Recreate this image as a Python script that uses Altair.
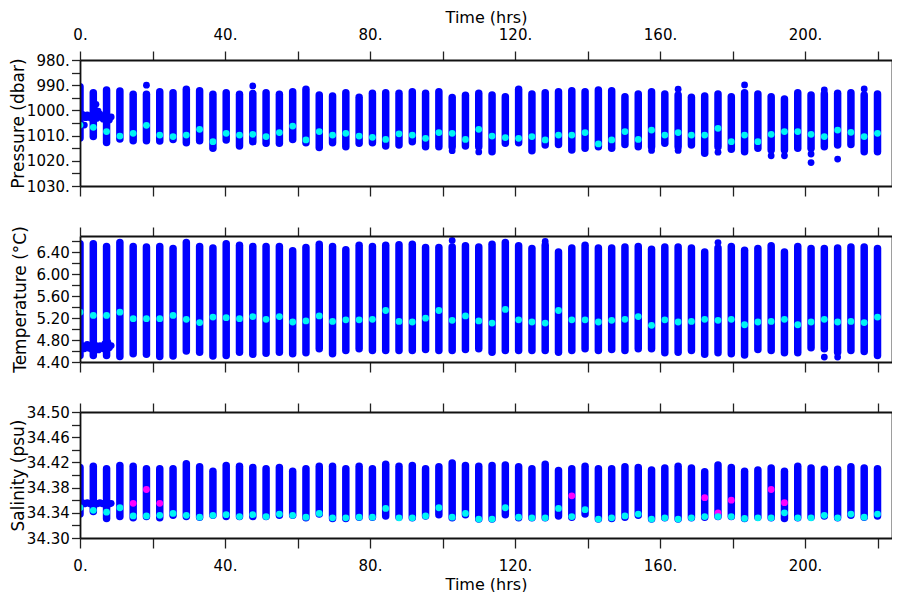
import altair as alt
import pandas as pd

# ---------------- data ----------------
CAST_TIME = [0.0, 3.67, 7.33, 11.0, 14.67, 18.33, 22.0, 25.67, 29.33, 33.0,
             36.67, 40.33, 44.0, 47.67, 51.33, 55.0, 58.67, 62.33, 66.0, 69.67,
             73.33, 77.0, 80.67, 84.33, 88.0, 91.67, 95.33, 99.0, 102.67, 106.33,
             110.0, 113.67, 117.33, 121.0, 124.67, 128.33, 132.0, 135.67, 139.33, 143.0,
             146.67, 150.33, 154.0, 157.67, 161.33, 165.0, 168.67, 172.33, 176.0, 179.67,
             183.33, 187.0, 190.67, 194.33, 198.0, 201.67, 205.33, 209.0, 212.67, 216.33,
             220.0]

# Pressure (dbar): shallowest, deepest, cyan marker
P_TOP = [990.6, 993.0, 991.9, 992.3, 993.6, 993.6, 992.6, 993.0, 991.6, 992.2,
         993.6, 993.0, 993.6, 993.3, 993.0, 993.6, 992.6, 991.6, 993.9, 994.3,
         993.0, 994.8, 993.2, 993.0, 993.2, 992.6, 993.2, 992.6, 994.9, 994.0,
         993.2, 993.9, 994.6, 991.6, 993.5, 993.0, 992.6, 992.2, 992.6, 991.9,
         992.2, 994.6, 993.5, 992.6, 993.5, 993.9, 994.8, 994.3, 993.5, 994.6,
         993.0, 993.5, 994.6, 995.5, 993.0, 993.9, 993.5, 993.2, 993.0, 993.9,
         993.5]
P_BOT = [1011.0, 1010.4, 1012.7, 1011.3, 1012.0, 1012.0, 1012.1, 1011.5, 1012.8, 1012.0,
         1015.0, 1011.7, 1014.1, 1012.4, 1013.0, 1013.0, 1011.5, 1012.8, 1014.7, 1012.8,
         1014.4, 1013.0, 1012.8, 1014.1, 1013.7, 1012.4, 1014.4, 1014.4, 1014.4, 1014.1,
         1014.4, 1016.4, 1013.0, 1012.8, 1016.0, 1013.7, 1013.5, 1015.7, 1015.0, 1014.4,
         1015.0, 1013.5, 1014.4, 1014.4, 1013.0, 1014.4, 1013.7, 1017.0, 1014.4, 1015.4,
         1016.4, 1015.0, 1015.7, 1015.7, 1015.0, 1015.0, 1014.4, 1013.7, 1013.5, 1016.4,
         1016.4]
P_CYAN = [1005.8, 1006.7, 1008.4, 1010.2, 1009.1, 1005.9, 1009.8, 1010.4, 1009.8, 1007.5,
          1012.4, 1009.1, 1009.8, 1009.5, 1010.4, 1008.8, 1006.2, 1011.7, 1008.4, 1009.8,
          1009.1, 1010.2, 1010.7, 1011.5, 1009.3, 1009.8, 1011.1, 1008.8, 1009.1, 1011.5,
          1007.5, 1010.2, 1010.8, 1011.1, 1010.4, 1011.7, 1009.8, 1009.8, 1008.8, 1013.3,
          1011.7, 1008.4, 1011.5, 1007.8, 1009.8, 1008.8, 1009.8, 1009.8, 1007.1, 1012.4,
          1009.8, 1012.4, 1009.5, 1008.4, 1008.4, 1009.5, 1010.4, 1007.8, 1008.7, 1010.4,
          1009.1]
P_EXTRA_K = [5, 13, 28, 30, 43, 45, 45, 48, 50, 52, 53, 55, 55, 56, 57, 59]
P_EXTRA_V = [990.0, 990.3, 1016.0, 1016.5, 1015.9, 991.6, 1015.9, 1016.6, 989.9,
             1018.0, 1018.0, 1017.3, 1020.7, 991.9, 1019.3, 991.5]

# Temperature (deg C): warmest, coldest, cyan marker
T_TOP = [6.56, 6.56, 6.51, 6.58, 6.51, 6.50, 6.51, 6.47, 6.58, 6.51,
         6.48, 6.56, 6.53, 6.51, 6.51, 6.51, 6.43, 6.49, 6.55, 6.51,
         6.45, 6.53, 6.51, 6.53, 6.54, 6.55, 6.49, 6.49, 6.50, 6.52,
         6.50, 6.55, 6.58, 6.52, 6.47, 6.53, 6.41, 6.48, 6.53, 6.48,
         6.48, 6.50, 6.51, 6.46, 6.50, 6.50, 6.48, 6.41, 6.48, 6.51,
         6.44, 6.47, 6.52, 6.41, 6.51, 6.47, 6.47, 6.48, 6.50, 6.50,
         6.47]
T_BOT = [4.52, 4.52, 4.52, 4.50, 4.55, 4.54, 4.50, 4.51, 4.60, 4.58,
         4.51, 4.52, 4.58, 4.54, 4.56, 4.58, 4.55, 4.57, 4.64, 4.55,
         4.61, 4.64, 4.61, 4.61, 4.61, 4.61, 4.63, 4.61, 4.61, 4.63,
         4.64, 4.58, 4.61, 4.61, 4.61, 4.61, 4.58, 4.61, 4.64, 4.61,
         4.63, 4.61, 4.64, 4.64, 4.57, 4.58, 4.61, 4.54, 4.57, 4.55,
         4.53, 4.63, 4.61, 4.57, 4.57, 4.66, 4.64, 4.58, 4.61, 4.59,
         4.52]
T_CYAN = [5.31, 5.25, 5.25, 5.31, 5.19, 5.19, 5.19, 5.25, 5.18, 5.12,
          5.22, 5.21, 5.19, 5.23, 5.18, 5.23, 5.13, 5.15, 5.24, 5.14,
          5.17, 5.17, 5.18, 5.34, 5.14, 5.13, 5.20, 5.34, 5.16, 5.24,
          5.15, 5.11, 5.36, 5.17, 5.13, 5.11, 5.34, 5.17, 5.17, 5.13,
          5.16, 5.18, 5.23, 5.07, 5.17, 5.13, 5.14, 5.18, 5.16, 5.18,
          5.08, 5.13, 5.14, 5.18, 5.08, 5.13, 5.18, 5.13, 5.14, 5.12,
          5.22]
T_EXTRA_K = [28, 35, 48, 56, 57]
T_EXTRA_V = [6.62, 6.60, 6.58, 4.49, 4.49]

# Salinity (psu): highest, lowest, cyan marker
S_TOP = [34.412, 34.414, 34.410, 34.415, 34.414, 34.410, 34.410, 34.410, 34.418, 34.413,
         34.406, 34.415, 34.414, 34.412, 34.410, 34.412, 34.406, 34.410, 34.414, 34.414,
         34.410, 34.414, 34.410, 34.417, 34.414, 34.415, 34.410, 34.413, 34.419, 34.415,
         34.414, 34.415, 34.416, 34.413, 34.410, 34.417, 34.407, 34.410, 34.414, 34.410,
         34.410, 34.413, 34.412, 34.408, 34.411, 34.414, 34.411, 34.405, 34.416, 34.412,
         34.406, 34.408, 34.411, 34.406, 34.414, 34.411, 34.409, 34.409, 34.413, 34.411,
         34.410]
S_BOT = [34.338, 34.342, 34.331, 34.334, 34.332, 34.334, 34.332, 34.336, 34.334, 34.333,
         34.336, 34.334, 34.334, 34.334, 34.334, 34.336, 34.336, 34.332, 34.338, 34.331,
         34.331, 34.333, 34.333, 34.335, 34.333, 34.332, 34.335, 34.337, 34.332, 34.337,
         34.330, 34.330, 34.337, 34.332, 34.332, 34.332, 34.335, 34.333, 34.338, 34.330,
         34.331, 34.333, 34.336, 34.330, 34.332, 34.330, 34.332, 34.333, 34.334, 34.334,
         34.331, 34.333, 34.332, 34.331, 34.332, 34.333, 34.335, 34.332, 34.336, 34.333,
         34.335]
S_CYAN = [34.348, 34.344, 34.341, 34.348, 34.335, 34.335, 34.336, 34.339, 34.336, 34.333,
          34.336, 34.337, 34.334, 34.337, 34.334, 34.338, 34.336, 34.333, 34.339, 34.332,
          34.332, 34.333, 34.333, 34.347, 34.332, 34.332, 34.335, 34.348, 34.333, 34.339,
          34.330, 34.330, 34.348, 34.333, 34.332, 34.332, 34.347, 34.334, 34.345, 34.330,
          34.332, 34.335, 34.338, 34.330, 34.332, 34.330, 34.332, 34.334, 34.334, 34.334,
          34.331, 34.332, 34.332, 34.340, 34.332, 34.332, 34.336, 34.332, 34.338, 34.333,
          34.338]
S_MAG_K = [4, 5, 6, 37, 47, 48, 49, 52, 53]
S_MAG_V = [34.355, 34.377, 34.355, 34.367, 34.364, 34.340, 34.360, 34.377, 34.356]

# moored-sensor record at the start of the series
CLUSTER_T = [0.3, 0.7, 1.2, 1.6, 2.0, 2.5, 2.9, 3.3, 3.8, 4.2,
             4.6, 5.1, 5.5, 5.9, 6.4, 6.8, 7.2, 7.7, 8.1, 8.6]
CLUSTER_P = [1002.0, 1001.6, 1002.4, 1002.9, 1001.8, 1002.5, 1003.0, 1002.2, 1001.7, 1002.6,
             1003.2, 1002.0, 1001.5, 1002.8, 1003.5, 1002.3, 1001.9, 1003.0, 1003.8, 1002.6]
CLUSTER_P_EXTRA_T = [1.2, 4.0, 4.4, 5.0]
CLUSTER_P_EXTRA_V = [1005.8, 999.5, 997.6, 1000.3]
CLUSTER_T_V = [4.66, 4.70, 4.64, 4.68, 4.72, 4.65, 4.69, 4.63, 4.67, 4.71,
               4.66, 4.62, 4.70, 4.68, 4.64, 4.73, 4.69, 4.76, 4.66, 4.70]
CLUSTER_S = [34.355, 34.356, 34.354, 34.355, 34.356, 34.355, 34.354, 34.355, 34.356, 34.355,
             34.354, 34.355, 34.356, 34.355, 34.354, 34.355, 34.356, 34.355, 34.354, 34.355]

X_TICKS = [0, 20, 40, 60, 80, 100, 120, 140, 160, 180, 200, 220]
P_TICKS = [980, 985, 990, 995, 1000, 1005, 1010, 1015, 1020, 1025, 1030]
T_TICKS = [4.4, 4.6, 4.8, 5.0, 5.2, 5.4, 5.6, 5.8, 6.0, 6.2, 6.4, 6.6]
S_TICKS = [34.30, 34.32, 34.34, 34.36, 34.38, 34.40, 34.42, 34.44, 34.46, 34.48, 34.50]

# ---------------- style ----------------
BLUE = "#0000ff"
CYAN = "#00f4f4"
MAGENTA = "#ff00ff"
FONT = "DejaVu Sans"
W, H = 812, 126
DOT = 46

AX = dict(domainColor="#111111", domainWidth=1.8, tickColor="#222222", tickWidth=1.3,
          grid=False, zindex=1, labelFont=FONT, labelFontSize=15, labelColor="#000000",
          titleFont=FONT, titleFontWeight="normal", titleColor="#000000",
          labelFlush=False, labelOverlap=False)

X_LABEL = "datum.value % 40 == 0 ? format(datum.value, 'd') + '.' : ''"

xs = alt.Scale(domain=[0, 224], nice=False, zero=False)


def x_axis(orient, show):
    kw = dict(AX)
    kw.update(orient=orient, values=X_TICKS, tickSize=9 if orient == "top" else 10)
    if show:
        kw.update(labelExpr=X_LABEL, labelBaseline="alphabetic",
                  title="Time (hrs)", titleFontSize=16, titleBaseline="alphabetic")
        if orient == "top":
            kw.update(labelPadding=11.7, titleY=-37.5)
        else:
            kw.update(labelPadding=22.5, titleY=51)
    else:
        kw.update(labels=False, title=None)
    return alt.Axis(**kw)


def y_axis_left(ticks, expr, title, tx):
    kw = dict(AX)
    kw.update(orient="left", values=ticks, labelExpr=expr, tickSize=8.5, labelPadding=2.2,
              title=title, titleFontSize=17, titleAngle=270, titleBaseline="alphabetic",
              titleAlign="center", titleX=tx, titleY=H / 2)
    return alt.Axis(**kw)


def y_axis_right(ticks):
    kw = dict(AX)
    kw.update(orient="right", values=ticks, labels=False, tickSize=8.5, title=None)
    return alt.Axis(**kw)


def panel(top, bot, cyan, ext_t, ext_v, ys, yleft, ticks, top_lab, bot_lab,
          mag_t=None, mag_v=None):
    cols = pd.DataFrame({"t": CAST_TIME, "lo": bot, "hi": top, "c": cyan})
    ext = pd.DataFrame({"t": ext_t, "v": ext_v})
    rule = alt.Chart(cols).mark_rule(color=BLUE, strokeWidth=7.5, strokeCap="round",
                                     clip=True).encode(
        x=alt.X("t:Q", scale=xs, axis=x_axis("bottom", bot_lab)),
        y=alt.Y("lo:Q", scale=ys, axis=yleft),
        y2="hi:Q")
    dots = alt.Chart(ext).mark_circle(color=BLUE, size=DOT, opacity=1, clip=True).encode(
        x=alt.X("t:Q", scale=xs, axis=None),
        y=alt.Y("v:Q", scale=ys, axis=None))
    layers = [rule, dots]
    if mag_t is not None:
        mag = pd.DataFrame({"t": mag_t, "v": mag_v})
        layers.append(alt.Chart(mag).mark_circle(color=MAGENTA, size=DOT, opacity=1,
                                                 clip=True).encode(
            x=alt.X("t:Q", scale=xs, axis=None),
            y=alt.Y("v:Q", scale=ys, axis=None)))
    cy = alt.Chart(cols).mark_circle(color=CYAN, size=DOT, opacity=1, clip=True).encode(
        x=alt.X("t:Q", scale=xs, axis=x_axis("top", top_lab)),
        y=alt.Y("c:Q", scale=ys, axis=y_axis_right(ticks)))
    layers.append(cy)
    return alt.layer(*layers).resolve_axis(x="independent", y="independent").properties(
        width=W, height=H)


# pressure
p_ext_t = [CAST_TIME[k] for k in P_EXTRA_K] + CLUSTER_T + CLUSTER_P_EXTRA_T
p_ext_v = P_EXTRA_V + CLUSTER_P + CLUSTER_P_EXTRA_V
p_scale = alt.Scale(domain=[980, 1030], reverse=True, nice=False, zero=False)
p_left = y_axis_left(P_TICKS, "datum.value % 10 == 0 ? format(datum.value, 'd') + '.' : ''",
                     "Pressure (dbar)", -57)
p1 = panel(P_TOP, P_BOT, P_CYAN, p_ext_t, p_ext_v, p_scale, p_left, P_TICKS, True, False)

# temperature
t_ext_t = [CAST_TIME[k] for k in T_EXTRA_K] + CLUSTER_T
t_ext_v = T_EXTRA_V + CLUSTER_T_V
t_scale = alt.Scale(domain=[4.4, 6.7], nice=False, zero=False)
t_left = y_axis_left(T_TICKS, "round(datum.value * 10) % 4 == 0 ? format(datum.value, '.2f') : ''",
                     "Temperature (°C)", -55)
p2 = panel(T_TOP, T_BOT, T_CYAN, t_ext_t, t_ext_v, t_scale, t_left, T_TICKS, False, False)

# salinity
s_scale = alt.Scale(domain=[34.30, 34.50], nice=False, zero=False)
s_left = y_axis_left(S_TICKS,
                     "(round(datum.value * 100) - 3430) % 4 == 0 ? format(datum.value, '.2f') : ''",
                     "Salinity (psu)", -57)
p3 = panel(S_TOP, S_BOT, S_CYAN, CLUSTER_T, CLUSTER_S, s_scale, s_left, S_TICKS, False, True,
           mag_t=[CAST_TIME[k] for k in S_MAG_K], mag_v=S_MAG_V)

# fixed canvas: plot origin at page (80, 60); canvas 884 x 584
chart = alt.vconcat(p1, p2, p3, spacing=50, bounds="flush").properties(
    autosize=alt.AutoSizeParams(type="none"),
    padding={"left": 72, "top": 52, "right": 0, "bottom": 532},
    background="white",
).configure_view(strokeWidth=0)

chart.save("out.html", embed_options={"renderer": "svg", "actions": False})
